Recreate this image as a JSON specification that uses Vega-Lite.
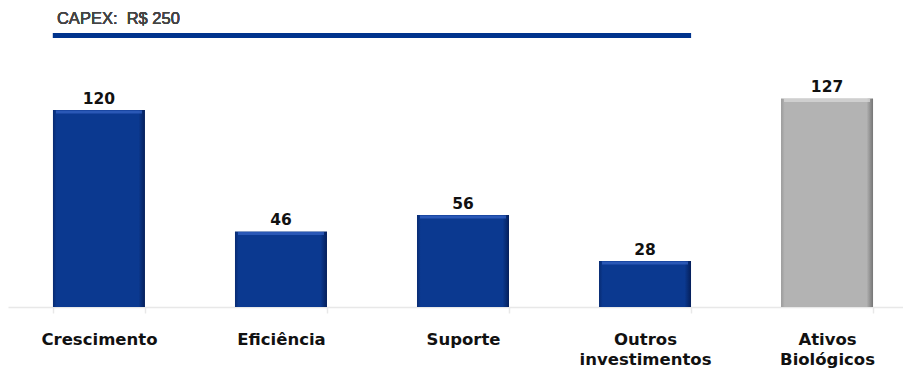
{
  "$schema": "https://vega.github.io/schema/vega-lite/v6.json",
  "width": 895,
  "height": 267,
  "autosize": "none",
  "padding": {"left": 8, "top": 40, "right": 0, "bottom": 64},
  "background": "white",
  "config": {
    "view": {"stroke": null},
    "axis": {"grid": false}
  },
  "data": {
    "values": [
      {"cat": "Crescimento", "value": 120, "group": "capex"},
      {"cat": "Eficiência", "value": 46, "group": "capex"},
      {"cat": "Suporte", "value": 56, "group": "capex"},
      {"cat": "Outros investimentos", "value": 28, "group": "capex"},
      {"cat": "Ativos Biológicos", "value": 127, "group": "bio"}
    ]
  },
  "encoding": {
    "x": {
      "field": "cat",
      "type": "nominal",
      "sort": null,
      "scale": {
        "domain": ["Crescimento", "Eficiência", "Suporte", "Outros investimentos", "Ativos Biológicos"],
        "range": [0, 910],
        "paddingInner": 0.4945,
        "paddingOuter": 0.247
      },
      "axis": {
        "title": null,
        "domainColor": "#e8e8e8",
        "domainWidth": 1.5,
        "tickColor": "#e8e8e8",
        "tickSize": 6,
        "tickWidth": 1.5,
        "tickBand": "extent",
        "labelAngle": 0,
        "labelFont": "DejaVu Sans",
        "labelFontWeight": "bold",
        "labelFontSize": 16.5,
        "labelColor": "#111111",
        "labelPadding": 18,
        "labelBaseline": "top",
        "labelLineHeight": 20,
        "labelLimit": 300,
        "labelExpr": "datum.value == 'Outros investimentos' ? ['Outros', 'investimentos'] : datum.value == 'Ativos Biológicos' ? ['Ativos', 'Biológicos'] : datum.value"
      }
    },
    "y": {
      "field": "value",
      "type": "quantitative",
      "scale": {"domain": [0, 162.6], "nice": false, "zero": true},
      "axis": null
    }
  },
  "layer": [
    {
      "transform": [{"filter": "datum.group === 'capex'"}],
      "mark": {
        "type": "bar",
        "color": {
          "gradient": "linear",
          "x1": 0, "y1": 0, "x2": 1, "y2": 0,
          "stops": [
            {"offset": 0, "color": "#082b72"},
            {"offset": 0.04, "color": "#0b3990"},
            {"offset": 0.93, "color": "#0b3990"},
            {"offset": 1, "color": "#051f5a"}
          ]
        }
      }
    },
    {
      "transform": [{"filter": "datum.group === 'bio'"}],
      "mark": {
        "type": "bar",
        "color": {
          "gradient": "linear",
          "x1": 0, "y1": 0, "x2": 1, "y2": 0,
          "stops": [
            {"offset": 0, "color": "#9a9a9a"},
            {"offset": 0.04, "color": "#b3b3b3"},
            {"offset": 0.93, "color": "#b3b3b3"},
            {"offset": 1, "color": "#757575"}
          ]
        }
      }
    },
    {
      "mark": {"type": "tick", "thickness": 3, "size": 86, "yOffset": 2},
      "encoding": {
        "color": {
          "condition": {"test": "datum.group === 'bio'", "value": "#dcdcdc"},
          "value": "#3765c6"
        }
      }
    },
    {
      "mark": {
        "type": "text",
        "font": "DejaVu Sans",
        "fontWeight": "bold",
        "fontSize": 15.5,
        "color": "#111111",
        "baseline": "alphabetic",
        "dy": -6
      },
      "encoding": {"text": {"field": "value", "type": "quantitative"}}
    },
    {
      "mark": {"type": "rule", "strokeWidth": 5, "color": "#00338d"},
      "encoding": {
        "x": {"datum": "Crescimento", "bandPosition": 0},
        "x2": {"datum": "Outros investimentos", "bandPosition": 1},
        "y": {"datum": 165.4}
      }
    },
    {
      "mark": {
        "type": "text",
        "text": "CAPEX:\u00a0 R$ 250",
        "align": "left",
        "baseline": "alphabetic",
        "dx": 4,
        "font": "Liberation Sans",
        "fontSize": 16.5,
        "fontWeight": "normal",
        "color": "#444444"
      },
      "encoding": {
        "x": {"datum": "Crescimento", "bandPosition": 0},
        "y": {"datum": 172.3}
      }
    }
  ]
}
